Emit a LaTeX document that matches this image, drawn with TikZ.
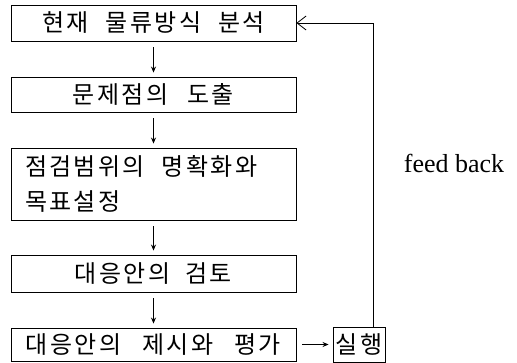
\documentclass[tikz,border=0pt]{standalone}
\usepackage{fontspec}
\setmainfont{Liberation Serif}
\newfontfamily\kr[LetterSpace=10]{Noto Sans CJK KR}
\usetikzlibrary{arrows.meta}
\begin{document}
\begin{tikzpicture}[x=1pt,y=-1pt,
  box/.style={draw, line width=0.9pt, minimum width=285pt, inner sep=0pt,
    font=\kr\fontsize{24}{35}\selectfont},
  flow/.style={line width=0.8pt, -{Stealth[length=6pt,width=5pt]},
    shorten <=6pt, shorten >=4pt},
  fbline/.style={line width=0.8pt, -{Straight Barb[length=9pt,width=14pt]}},
]
\useasboundingbox (0,0) rectangle (517,363);
\node[box, minimum height=36pt] (b1) at (153.5,23) {현재\hspace{17pt}물류방식\hspace{17pt}분석};
\node[box, minimum height=35pt] (b2) at (153.5,94.5) {문제점의\hspace{19pt}도출};
\node[box, minimum height=72pt, text width=257pt, inner xsep=14pt, align=left] (b3) at (153.5,184)
  {점검범위의\hspace{17pt}명확화와\\목표설정};
\node[box, minimum height=37pt] (b4) at (153.5,273.5) {대응안의\hspace{15pt}검토};
\node[box, minimum height=33pt] (b5) at (153.5,344.5) {대응안의\hspace{21pt}제시와\hspace{21pt}평가};
\node[box, minimum width=52pt, minimum height=35pt] (run) at (359,344.5) {실행};
\node[anchor=base, font=\fontsize{26}{30}\selectfont] (fbl) at (454,173) {feed back};
\draw[flow] (b1) -- (b2);
\draw[flow] (b2) -- (b3);
\draw[flow] (b3) -- (b4);
\draw[flow] (b4) -- (b5);
\draw[flow] (b5.east) -- (run.west);
\draw[fbline] ([xshift=14pt]run.north) |- (b1.east);
\end{tikzpicture}
\end{document}
